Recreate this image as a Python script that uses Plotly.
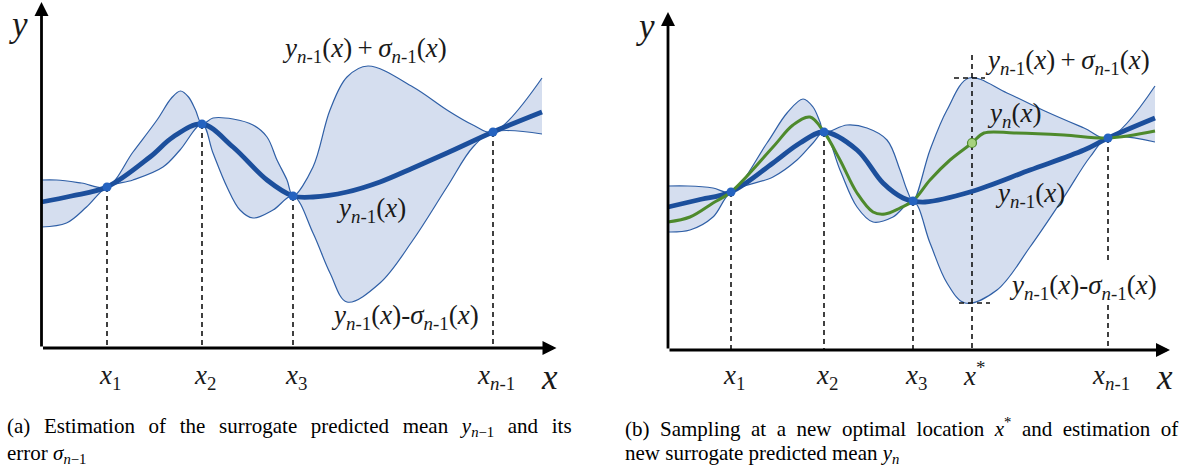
import plotly.graph_objects as go

# ---------------- data (panel units) ----------------
# Panel (a)
A_PTS_X = [65.5, 160.5, 251.5, 451.5]
A_PTS_Y = [161, 224, 152, 216]
A_TICKS = ["<i>x</i><sub>1</sub>", "<i>x</i><sub>2</sub>", "<i>x</i><sub>3</sub>", "<i>x</i><sub><i>n</i>-1</sub>"]

A_MEAN_X = [0, 30, 65.5, 108.5, 131.5, 160.5, 191.5, 225.5, 251.5, 271.5, 305.5, 338.5, 371.5, 405.5, 451.5, 500.5]
A_MEAN_Y = [146, 152, 161, 191, 211, 224, 201, 168, 152, 151, 156, 166, 180, 195, 216, 236]

A_UP_X = [0, 15, 40, 65.5, 91.5, 115.5, 130, 139, 147, 154, 160.5, 171.5, 191.5, 211.5, 225.5, 235.5, 245.5, 251.5,
          271.5, 288.5, 305.5, 326.5, 371.5, 405.5, 431.5, 451.5, 500.5]
A_UP_Y = [168, 168, 165, 161, 196, 228, 250, 257, 251, 238, 224, 230, 229, 223, 211, 188, 168, 152,
          181, 238, 271, 282, 261, 238, 223, 216, 270]

A_LO_X = [0, 25, 45, 65.5, 91.5, 121.5, 138.5, 160.5, 171.5, 185.5, 198.5, 211.5, 231.5, 251.5,
          271.5, 288.5, 305.5, 338.5, 371.5, 405.5, 431.5, 451.5, 500.5]
A_LO_Y = [121, 125, 141, 161, 168, 181, 198, 224, 195, 161, 138, 130, 138, 152,
          115, 75, 46, 65, 108, 161, 201, 216, 214]

# Panel (b)
B_PTS_X = [63, 156, 245, 440]
B_PTS_Y = [158, 218, 149, 212]
B_TICKS = ["<i>x</i><sub>1</sub>", "<i>x</i><sub>2</sub>", "<i>x</i><sub>3</sub>", "<i>x</i><sub><i>n</i>-1</sub>"]
B_NEW_X = [304]
B_NEW_Y = [207]
B_NEW_TICK = "<i>x</i><sup>*</sup>"
B_BAND_EXT_Y = [272, 47]   # sigma band max / min at x*

B_MEAN_X = [0, 30, 63, 105, 132, 156, 189, 215, 235, 245, 257, 302, 362, 416, 440, 487]
B_MEAN_Y = [143, 150, 158, 187, 207, 218, 200, 167, 152, 149, 148, 158, 180, 200, 212, 232]

B_GREEN_X = [0, 22, 45, 63, 105, 125, 142, 156, 172, 189, 205, 217, 232, 245, 262, 282, 304, 316, 346, 396, 440, 487]
B_GREEN_Y = [128, 133, 147, 158, 203, 225, 233, 218, 190, 157, 138, 136, 142, 149, 170, 190, 207, 217, 217, 215, 212, 219]

B_UP_X = [0, 20, 45, 63, 99, 119, 135, 145, 152, 156, 179, 199, 219, 232, 239, 245, 262, 279, 301, 339, 379, 416, 440, 487]
B_UP_Y = [164, 164, 162, 158, 207, 237, 251, 243, 228, 218, 225, 222, 210, 180, 160, 149, 200, 240, 272, 257, 238, 222, 212, 264]

B_LO_X = [0, 22, 45, 63, 105, 129, 145, 156, 172, 189, 205, 225, 245, 262, 279, 297, 329, 362, 396, 422, 440, 487]
B_LO_Y = [118, 120, 133, 158, 173, 190, 207, 218, 180, 143, 128, 133, 149, 107, 67, 47, 60, 103, 153, 193, 212, 208]

# ---------------- styles ----------------
FILL = "#d5deef"
EDGE = "#2f5fa6"
MEAN = "#1c4f9c"
GREEN = "#4e8a2c"
PT = "#2563c0"
SERIF = "Liberation Serif"
W, H = 1197, 472
MATH = 27
TICK = 27
AXL = 35

fig = go.Figure()


def band(xl, yl, xu, yu, xa, ya):
    fig.add_trace(go.Scatter(x=xl, y=yl, mode="lines", line=dict(color=EDGE, width=1.2, shape="spline", smoothing=1),
                             xaxis=xa, yaxis=ya, hoverinfo="skip", showlegend=False))
    fig.add_trace(go.Scatter(x=xu, y=yu, mode="lines", line=dict(color=EDGE, width=1.2, shape="spline", smoothing=1),
                             fill="tonexty", fillcolor=FILL,
                             xaxis=xa, yaxis=ya, hoverinfo="skip", showlegend=False))


def vdash(x, y0, y1, xa, ya):
    fig.add_trace(go.Scatter(x=[x, x], y=[y0, y1], mode="lines",
                             line=dict(color="#111111", width=1.6, dash="5px,4px"),
                             xaxis=xa, yaxis=ya, hoverinfo="skip", showlegend=False))


def hdash(x0, x1, y, xa, ya):
    fig.add_trace(go.Scatter(x=[x0, x1], y=[y, y], mode="lines",
                             line=dict(color="#111111", width=1.6, dash="5px,4px"),
                             xaxis=xa, yaxis=ya, hoverinfo="skip", showlegend=False))


# ----- panel (a)
band(A_LO_X, A_LO_Y, A_UP_X, A_UP_Y, "x", "y")
for px, py in zip(A_PTS_X, A_PTS_Y):
    vdash(px, py, 0, "x", "y")
fig.add_trace(go.Scatter(x=A_MEAN_X, y=A_MEAN_Y, mode="lines",
                         line=dict(color=MEAN, width=4.8, shape="spline", smoothing=1),
                         xaxis="x", yaxis="y", hoverinfo="skip", showlegend=False))
fig.add_trace(go.Scatter(x=A_PTS_X, y=A_PTS_Y, mode="markers", marker=dict(color=PT, size=9),
                         xaxis="x", yaxis="y", hoverinfo="skip", showlegend=False))

# ----- panel (b)
band(B_LO_X, B_LO_Y, B_UP_X, B_UP_Y, "x2", "y2")
for i, (px, py) in enumerate(zip(B_PTS_X, B_PTS_Y)):
    if i == len(B_PTS_X) - 1:
        vdash(px, py, 89, "x2", "y2")
        vdash(px, 45, 0, "x2", "y2")
    else:
        vdash(px, py, 0, "x2", "y2")
vdash(B_NEW_X[0], 295, 0, "x2", "y2")
hdash(B_NEW_X[0] - 18, B_NEW_X[0] + 13, B_BAND_EXT_Y[0], "x2", "y2")
hdash(B_NEW_X[0] - 13, B_NEW_X[0] + 18, B_BAND_EXT_Y[1], "x2", "y2")
fig.add_trace(go.Scatter(x=B_MEAN_X, y=B_MEAN_Y, mode="lines",
                         line=dict(color=MEAN, width=4.8, shape="spline", smoothing=1),
                         xaxis="x2", yaxis="y2", hoverinfo="skip", showlegend=False))
fig.add_trace(go.Scatter(x=B_GREEN_X, y=B_GREEN_Y, mode="lines",
                         line=dict(color=GREEN, width=3, shape="spline", smoothing=1),
                         xaxis="x2", yaxis="y2", hoverinfo="skip", showlegend=False))
fig.add_trace(go.Scatter(x=B_PTS_X, y=B_PTS_Y, mode="markers", marker=dict(color=PT, size=9),
                         xaxis="x2", yaxis="y2", hoverinfo="skip", showlegend=False))
fig.add_trace(go.Scatter(x=B_NEW_X, y=B_NEW_Y, mode="markers",
                         marker=dict(color="#a6d27e", size=9, line=dict(color=GREEN, width=1.2)),
                         xaxis="x2", yaxis="y2", hoverinfo="skip", showlegend=False))

# ---------------- annotations ----------------
ann = []


def arrow(xr, yr, x, y):
    ann.append(dict(xref=xr, yref=yr, axref=xr, ayref=yr, x=x, y=y, ax=0, ay=0, text="",
                    showarrow=True, arrowhead=2, arrowsize=1, arrowwidth=2.8, arrowcolor="black", standoff=0))


def txt(xr, yr, x, y, s, size=MATH, xanchor="center"):
    ann.append(dict(xref=xr, yref=yr, x=x, y=y, text=s, showarrow=False, xanchor=xanchor, yanchor="middle",
                    font=dict(family=SERIF, size=size, color="#1a1a1a")))


SUB = "<sub><i>n</i>-1</sub>"
TS = "\u2009"
UPL = f"<i>y</i>{SUB}(<i>x</i>){TS}+{TS}<i>σ</i>{SUB}(<i>x</i>)"
LOL = f"<i>y</i>{SUB}(<i>x</i>)-<i>σ</i>{SUB}(<i>x</i>)"
MEL = f"<i>y</i>{SUB}(<i>x</i>)"
GRL = "<i>y</i><sub><i>n</i></sub>(<i>x</i>)"

# panel (a)
arrow("x", "y", 0, 346)
arrow("x", "y", 515, 0)
txt("x", "y", -23, 324, "<i>y</i>", AXL)
txt("x", "y", 508, -29, "<i>x</i>", AXL)
for px, t in zip(A_PTS_X, A_TICKS):
    txt("x", "y", px + 3, -29, t, TICK)
txt("x", "y", 323, 298, UPL)
txt("x", "y", 329, 138, MEL)
txt("x", "y", 363, 31, LOL)

# panel (b)
arrow("x2", "y2", 0, 338)
arrow("x2", "y2", 502, 0)
txt("x2", "y2", -23, 324, "<i>y</i>", AXL)
txt("x2", "y2", 496, -27, "<i>x</i>", AXL)
for px, t in zip(B_PTS_X, B_TICKS):
    txt("x2", "y2", px + 3, -27, t, TICK)
txt("x2", "y2", B_NEW_X[0] + 2, -24, B_NEW_TICK, TICK)
txt("x2", "y2", 399, 288, UPL)
txt("x2", "y2", 346, 235, GRL)
txt("x2", "y2", 362, 155, MEL)
txt("x2", "y2", 415, 63, LOL)

# captions (first lines justified by widened word gaps)
GA = " \u2009\u2009"
GB = "\u00a0\u00a0"
CAP_A1 = GA.join(["(a)", "Estimation", "of", "the", "surrogate", "predicted", "mean",
                  "<i>y</i><sub><i>n</i>−1</sub>", "and", "its"])
CAP_A2 = "error <i>σ</i><sub><i>n</i>−1</sub>"
CAP_B1 = GB.join(["(b)", "Sampling", "at", "a", "new", "optimal", "location", "<i>x</i><sup>*</sup>",
                  "and", "estimation", "of"])
CAP_B2 = "new surrogate predicted mean <i>y</i><sub><i>n</i></sub>"
for x, y, s in [(5, 427, CAP_A1), (5, 454, CAP_A2), (623, 427, CAP_B1), (623, 454, CAP_B2)]:
    ann.append(dict(xref="paper", yref="paper", x=x / W, y=1 - y / H, text=s, showarrow=False,
                    xanchor="left", yanchor="middle", font=dict(family=SERIF, size=21, color="black")))

ax_common = dict(showgrid=False, zeroline=False, showticklabels=False, ticks="", showline=False, fixedrange=True)
fig.update_layout(
    width=W, height=H, margin=dict(l=0, r=0, t=0, b=0),
    paper_bgcolor="white", plot_bgcolor="white", showlegend=False,
    xaxis=dict(domain=[0, 0.5], range=[-41.5, 557], **ax_common),
    yaxis=dict(domain=[0, 1], range=[-124, 348], **ax_common),
    xaxis2=dict(domain=[0.5, 1], range=[-69.5, 529], anchor="y2", **ax_common),
    yaxis2=dict(domain=[0, 1], range=[-122, 350], anchor="x2", **ax_common),
    annotations=ann,
)
fig.write_html("out.html")
